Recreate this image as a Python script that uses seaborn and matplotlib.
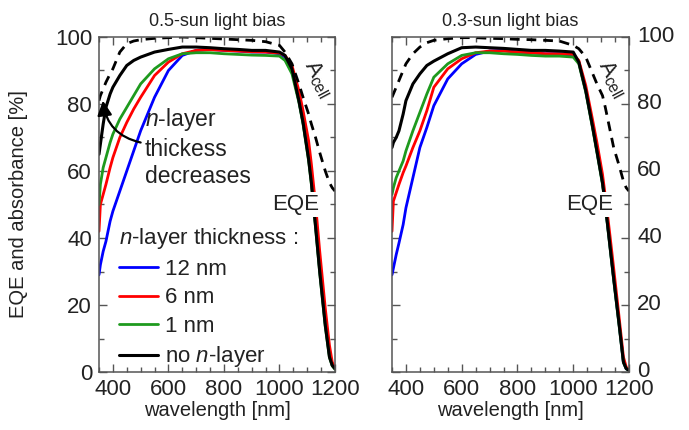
import numpy as np
import pandas as pd
import matplotlib
matplotlib.use("Agg")
import matplotlib.pyplot as plt
import matplotlib.transforms as mtransforms
import seaborn as sns
from matplotlib.ticker import MultipleLocator

# ---------------- data ----------------
wavelength = [350, 355, 365, 375, 390, 400, 425, 450, 475, 500, 550, 600, 650, 700,
              750, 800, 850, 900, 950, 1000, 1020, 1045, 1070, 1085, 1105, 1115,
              1130, 1145, 1165, 1180, 1190, 1200]

# 0.5-sun light bias
eqe05_12nm = [29, 32, 36, 39, 45, 48, 54, 60, 66, 72, 82, 90, 94.5, 96, 96.3, 96, 95.8, 95.5,
              95.5, 95, 94, 90, 81, 74.5, 64, 57, 44, 30.5, 14.5, 5, 2, 1]
eqe05_6nm = [42, 50, 53, 56, 61, 64, 70, 74.5, 78.5, 82, 88.5, 92.5, 95, 96, 96.2, 96, 95.8,
             95.6, 95.5, 95.2, 94.5, 91.5, 84, 78, 69, 62, 50, 36, 19, 8, 3, 1]
eqe05_1nm = [50, 56, 61, 64, 68.5, 71, 75.5, 79, 82.5, 86, 90.5, 93.5, 95, 95.3, 95.3, 95, 94.8,
             94.6, 94.5, 94.3, 93, 89, 80.5, 74, 63, 56, 43, 29.5, 13.5, 4.3, 1.8, 0.8]
eqe05_none = [65, 68, 74, 79, 83, 85, 88.5, 91.5, 93, 94, 95.5, 96.3, 97, 97, 96.8, 96.5, 96.3,
              96, 96, 95.5, 94.5, 90.5, 81, 74.5, 63.5, 56.5, 43.5, 30, 14, 4.5, 2, 1]
acell05 = [81, 82.5, 84.5, 86.5, 89, 90.5, 95.5, 98, 98.8, 99.2, 99.6, 99.8, 100, 99.8, 99.6,
           99.4, 99.2, 99, 98.6, 97.5, 95.5, 92, 86, 82, 77, 74, 70, 65.5, 60, 56.5, 55, 54]

# 0.3-sun light bias
eqe03_12nm = [29, 31, 35, 38.5, 44, 49, 58, 67, 73, 79.5, 87.5, 92, 94.8, 95.8, 96, 95.5, 95.3,
              95, 95, 94.5, 92.5, 84, 73, 66, 56.5, 50, 39, 28, 14, 3, 1, 0.5]
eqe03_6nm = [42, 51, 53.5, 56, 59.5, 61.5, 67, 72, 78, 85, 90.5, 93.5, 95.3, 95.8, 95.8, 95.5,
             95.3, 95, 95, 94.8, 93, 85.5, 75, 68.5, 59, 52.5, 42, 31, 16, 4.5, 1.5, 0.5]
eqe03_1nm = [53, 55, 58, 60, 63, 66, 72, 77.5, 83, 88, 92, 94.5, 95.3, 95.3, 95, 94.8, 94.5,
             94.3, 94.3, 94, 92, 83.5, 72.5, 65.5, 56, 49.5, 38.5, 27.5, 13.5, 2.8, 1, 0.4]
eqe03_none = [67, 68.5, 70, 72, 77, 81, 86, 89, 91.5, 92.8, 95, 96.8, 97, 96.8, 96.6, 96.3, 96,
              96, 95.8, 95.5, 92.5, 84, 73, 66, 56.5, 50, 39, 28, 14, 3, 1, 0.5]
acell03 = [82, 83, 85, 87, 90, 92, 95, 97, 98.3, 99, 99.5, 99.8, 99.8, 99.6, 99.5, 99.3, 99.2,
           99, 98.8, 97.5, 96.5, 94, 89, 86, 82.5, 79, 73, 67, 61.5, 57, 55, 54]

series_names = ["12 nm", "6 nm", "1 nm", "no $n$-layer"]
series_colors = ["#0000ff", "#ff0000", "#1e9a1e", "#000000"]
panel_titles = ["0.5-sun light bias", "0.3-sun light bias"]
xticks = [400, 600, 800, 1000, 1200]
yticks = [0, 20, 40, 60, 80, 100]

panels = [
    (panel_titles[0], [eqe05_12nm, eqe05_6nm, eqe05_1nm, eqe05_none], acell05),
    (panel_titles[1], [eqe03_12nm, eqe03_6nm, eqe03_1nm, eqe03_none], acell03),
]

# ---------------- style ----------------
sns.set_theme(style="ticks")
plt.rcParams["font.family"] = ["Liberation Sans", "DejaVu Sans"]
plt.rcParams["mathtext.fontset"] = "custom"
plt.rcParams["mathtext.rm"] = "Liberation Sans"
plt.rcParams["mathtext.it"] = "Liberation Sans:italic"
plt.rcParams["mathtext.bf"] = "Liberation Sans:bold"
TXT = "#222222"
SP = "#555555"

fig = plt.figure(figsize=(6.89, 4.30), dpi=100)
W, H = 689, 430
ax_l = fig.add_axes([99 / W, (H - 372) / H, 236 / W, 335 / H])
ax_r = fig.add_axes([392 / W, (H - 372) / H, 237 / W, 335 / H])

for i, (ax, (title, eqes, acell)) in enumerate(zip([ax_l, ax_r], panels)):
    for name, col, vals in zip(series_names, series_colors, eqes):
        df = pd.DataFrame({"wavelength": wavelength, "value": vals})
        sns.lineplot(data=df, x="wavelength", y="value", ax=ax, color=col,
                     lw=2.0 if col != "#000000" else 2.2, sort=False,
                     estimator=None, label=None, legend=False)
    dfa = pd.DataFrame({"wavelength": wavelength, "value": acell})
    sns.lineplot(data=dfa, x="wavelength", y="value", ax=ax, color="black",
                 lw=2.0, linestyle=(0, (3.5, 2.5)), sort=False, estimator=None,
                 legend=False)

    ax.set_xlim(350, 1200)
    ax.set_ylim(0, 100)
    ax.set_xticks(xticks)
    ax.set_yticks(yticks)
    ax.xaxis.set_minor_locator(MultipleLocator(50))
    ax.yaxis.set_minor_locator(MultipleLocator(10))
    ax.tick_params(which="both", direction="in", top=True, right=True,
                   color=SP, width=1.0, labelsize=16, labelcolor=TXT)
    ax.tick_params(which="major", length=6)
    ax.tick_params(which="minor", length=3.5)
    ax.tick_params(axis="x", pad=5)
    ax.tick_params(axis="y", pad=5)
    for s in ax.spines.values():
        s.set_color(SP)
        s.set_linewidth(1.1)
    ax.set_xlabel("wavelength [nm]", fontsize=14.5, color=TXT, labelpad=1)
    ax.set_title(title, fontsize=13, color=TXT, pad=8)

    ax.text(1058, 50, "EQE", fontsize=16, color=TXT, ha="center", va="center",
            bbox=dict(facecolor="white", edgecolor="none", pad=1.5))
    ax.text(1139, 87.5, r"A$_{\rm cell}$", fontsize=16, color=TXT, ha="center",
            va="center", rotation=-62, rotation_mode="anchor")

ax_l.set_ylabel("EQE and absorbance [%]", fontsize=14.5, color=TXT)
ax_l.yaxis.set_label_coords(-0.30, 0.5)
ax_r.set_ylabel("")
ax_r.tick_params(axis="y", labelleft=False, labelright=True, pad=6)
# right-panel tick labels sit slightly above their ticks, as in the reference
shift = mtransforms.ScaledTranslation(0, 2.5 / 72, fig.dpi_scale_trans)
for lab in ax_r.get_yticklabels():
    lab.set_transform(lab.get_transform() + shift)

# legend (left panel)
handles = ax_l.get_lines()[:4]
leg = ax_l.legend(handles, series_names, title="$n$-layer thickness :",
                  loc="upper left", bbox_to_anchor=(0.085, 0.435), frameon=False,
                  fontsize=16, title_fontsize=16, handlelength=1.75,
                  handletextpad=0.3, labelspacing=0.34, borderpad=0,
                  borderaxespad=0, alignment="left")
for t in leg.get_texts():
    t.set_color(TXT)
leg.get_title().set_color(TXT)

# arrow annotation
ax_l.annotate("$n$-layer\nthickess\ndecreases", xy=(364, 79.5), xytext=(515, 79.5),
              fontsize=16.5, color=TXT, ha="left", va="top", linespacing=1.27,
              annotation_clip=False)
ax_l.annotate("", xy=(364, 81), xytext=(500, 68.5),
              arrowprops=dict(arrowstyle="-|>", color="black", lw=1.6,
                              mutation_scale=22,
                              connectionstyle="arc3,rad=-0.35",
                              shrinkA=0, shrinkB=0))

fig.savefig("out.png", dpi=100)
